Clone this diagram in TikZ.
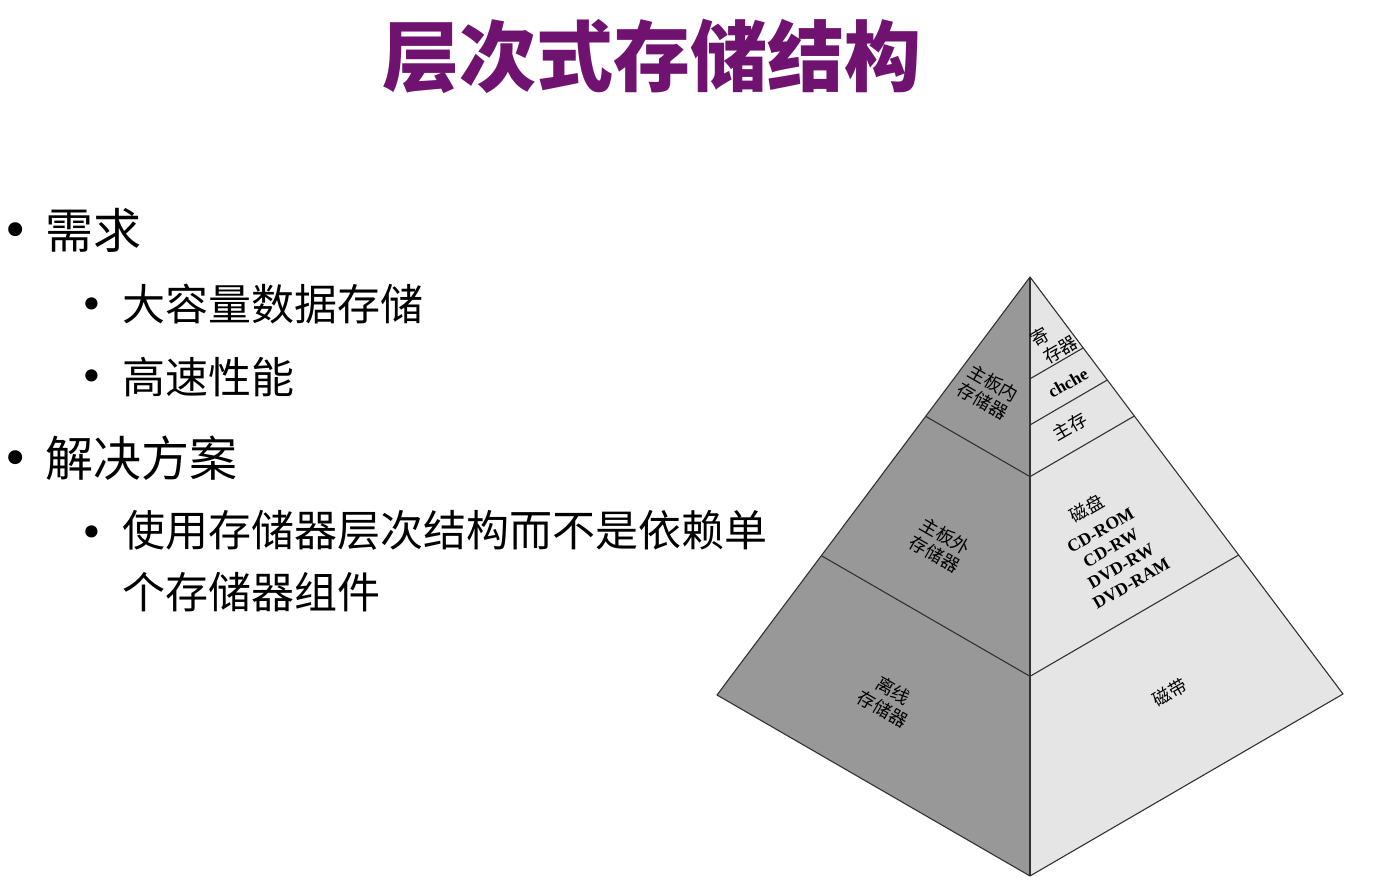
\documentclass[tikz,border=0pt]{standalone}
\usepackage{fontspec}
\setmainfont{Liberation Serif}
\newfontfamily\cjk{Noto Sans CJK SC}
\newfontfamily\bul{DejaVu Sans}
\usetikzlibrary{calc}
\definecolor{titlepurple}{RGB}{112,18,112}
\definecolor{leftgray}{RGB}{152,152,152}
\definecolor{rightgray}{RGB}{229,229,229}
\definecolor{edgegray}{RGB}{50,50,50}
\begin{document}
\begin{tikzpicture}[x=1pt,y=-1pt,
  edge/.style={draw=edgegray, line width=1.1pt, line join=round},
  lab/.style={font=\cjk\fontsize{18}{21}\selectfont, align=center, inner sep=0pt, text=black},
  latlab/.style={font=\bfseries\fontsize{17.5}{20.5}\selectfont, align=center, inner sep=0pt, text=black},
  lvlone/.style={font=\cjk\fontsize{48}{56}\selectfont, anchor=west, inner sep=0pt},
  lvltwo/.style={font=\cjk\fontsize{43}{62}\selectfont, anchor=west, inner sep=0pt, align=left},
  bulone/.style={font=\bul\fontsize{48}{48}\selectfont, inner sep=0pt},
  bultwo/.style={font=\bul\fontsize{42}{42}\selectfont, inner sep=0pt}]
\useasboundingbox (0,0) rectangle (1381,890);
% title
\node[font=\cjk\bfseries\fontsize{77}{80}\selectfont, text=titlepurple, inner sep=0pt] (title) at (652,56) {层次式存储结构};
% bullets
\node[bulone] (b1) at (16,235) {•};
\node[lvlone] (t1) at (45,230) {需求};
\node[bultwo] (b2) at (92,309) {•};
\node[lvltwo] (t2) at (122,304) {大容量数据存储};
\node[bultwo] (b3) at (92,381) {•};
\node[lvltwo] (t3) at (122,377) {高速性能};
\node[bulone] (b4) at (16,463) {•};
\node[lvlone] (t4) at (45,458) {解决方案};
\node[bultwo] (b5) at (92,537) {•};
\node[lvltwo, anchor=north west] (t5) at (122,510) {使用存储器层次结构而不是依赖单\\个存储器组件};
% pyramid
\coordinate (A) at (1030,277);
\coordinate (L) at (717,695);
\coordinate (B) at (1030,876);
\coordinate (R) at (1343,694);
\fill[leftgray] (A)--(L)--(B)--cycle;
\fill[rightgray] (A)--(R)--(B)--cycle;
\draw[edge] ($(A)!1/3!(L)$) -- ($(A)!1/3!(B)$);
\draw[edge] ($(A)!2/3!(L)$) -- ($(A)!2/3!(B)$);
\draw[edge] ($(A)!0.17!(R)$) -- ($(A)!0.17!(B)$);
\draw[edge] ($(A)!0.247!(R)$) -- ($(A)!0.247!(B)$);
\draw[edge] ($(A)!1/3!(R)$) -- ($(A)!1/3!(B)$);
\draw[edge] ($(A)!2/3!(R)$) -- ($(A)!2/3!(B)$);
\draw[edge] (A)--(L)--(B)--(R)--cycle;
\draw[edge] (A)--(B);
% labels left face
\node[lab, rotate=-30] (inboard) at (988,392) {主板内\\存储器};
\node[lab, rotate=-30] (outboard) at (940,545) {主板外\\存储器};
\node[lab, rotate=-30] (offline) at (888,700) {离线\\存储器};
% labels right face
\node[lab, rotate=30, align=left] (reg) at (1054,341) {寄\\\hspace{0.15em}存器};
\node[latlab, rotate=30] (cache) at (1068,383) {chche};
\node[lab, rotate=30] (mainmem) at (1070,427) {主存};
\node[lab, rotate=30] (disk) at (1087,508) {磁盘};
\node[latlab, rotate=30] (optical) at (1116,557) {CD-ROM\\CD-RW\\DVD-RW\\DVD-RAM};
\node[lab, rotate=30] (tape) at (1170,693) {磁带};
\end{tikzpicture}
\end{document}
